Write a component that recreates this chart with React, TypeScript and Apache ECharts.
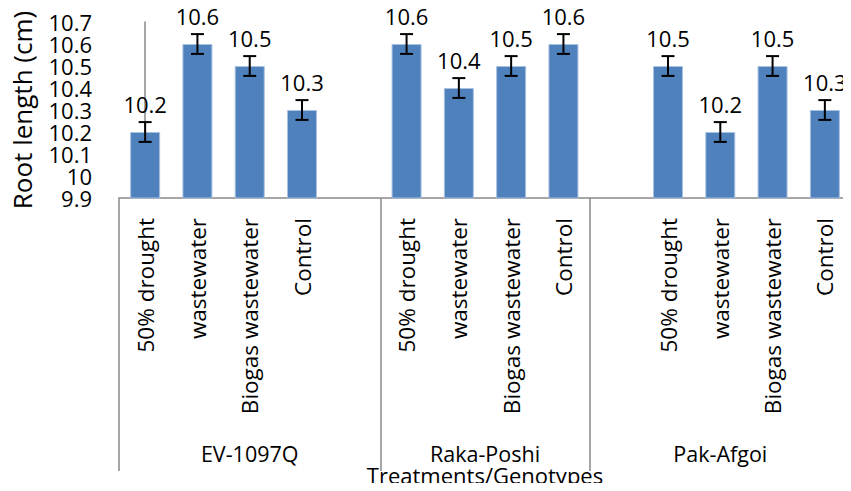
import React, { useEffect, useRef } from "react";
import * as echarts from "echarts";

const categories = [
  "50% drought", "wastewater", "Biogas wastewater", "Control", "",
  "50% drought", "wastewater", "Biogas wastewater", "Control",
  "", "50% drought", "wastewater", "Biogas wastewater", "Control",
];
const rootLength: (number | null)[] = [
  10.2, 10.6, 10.5, 10.3, null,
  10.6, 10.4, 10.5, 10.6,
  null, 10.5, 10.2, 10.5, 10.3,
];
const errorSize: (number | null)[] = [
  0.045, 0.045, 0.045, 0.045, null,
  0.045, 0.045, 0.045, 0.045,
  null, 0.045, 0.045, 0.045, 0.045,
];
const groups = ["EV-1097Q", "Raka-Poshi", "Pak-Afgoi"];
const groupSizes = [5, 4, 5];
const yMin = 9.9;
const yMax = 10.7;
const yStep = 0.1;

const FONT = "Open Sans";

export default function App() {
  const ref = useRef<HTMLDivElement>(null);
  useEffect(() => {
    if (!ref.current) return;
    const chart = echarts.init(ref.current, undefined, { renderer: "svg" });

    const bounds: number[] = [-0.5];
    groupSizes.forEach((s) => bounds.push(bounds[bounds.length - 1] + s));
    const centers = groupSizes.map((s, i) => (bounds[i] + bounds[i + 1]) / 2);

    const errData = rootLength
      .map((v, i) => (v == null || errorSize[i] == null ? null : [i, v - (errorSize[i] as number), v + (errorSize[i] as number)]))
      .filter((d) => d !== null);

    chart.setOption({
      animation: false,
      textStyle: { fontFamily: FONT },
      grid: { left: 119, top: 22, bottom: 293, right: -7, containLabel: false },
      xAxis: [
        {
          type: "category",
          data: categories,
          axisLine: { show: true, lineStyle: { color: "#898989", width: 1.5 } },
          axisTick: { show: false },
          axisLabel: {
            interval: 0,
            rotate: 90,
            margin: 20,
            fontSize: 22.5,
            color: "#000",
            fontFamily: FONT,
          },
        },
        {
          type: "value",
          min: bounds[0],
          max: bounds[bounds.length - 1],
          position: "bottom",
          axisLine: { show: false },
          splitLine: { show: false },
          axisTick: {
            show: true,
            customValues: bounds,
            length: 273,
            lineStyle: { color: "#898989", width: 1.5 },
          },
          axisLabel: {
            customValues: centers,
            margin: 244,
            fontSize: 21.5,
            color: "#000",
            fontFamily: FONT,
            formatter: (v: number) => {
              const k = centers.findIndex((c) => Math.abs(c - v) < 1e-6);
              return k >= 0 ? groups[k] : "";
            },
          },
          name: "Treatments/Genotypes",
          nameLocation: "middle",
          nameGap: 266,
          nameMoveOverlap: false,
          nameTextStyle: { fontSize: 22, color: "#000", fontFamily: FONT },
        },
      ],
      yAxis: {
        type: "value",
        min: yMin,
        max: yMax,
        interval: yStep,
        axisLine: { show: true, lineStyle: { color: "#898989", width: 1.5 } },
        axisTick: { show: false },
        splitLine: { show: false },
        axisLabel: {
          margin: 27,
          fontSize: 22,
          color: "#000",
          fontFamily: FONT,
          formatter: (v: number) => String(Math.round(v * 10) / 10),
        },
        name: "Root length (cm)",
        nameLocation: "middle",
        nameRotate: 90,
        nameGap: 84,
        nameMoveOverlap: false,
        nameTextStyle: { fontSize: 26, color: "#000", fontFamily: FONT },
      },
      series: [
        {
          type: "bar",
          data: rootLength.map((v) => (v == null ? "-" : v)),
          barWidth: 30,
          itemStyle: { color: "#4F81BD", borderColor: "#A9C1E0", borderWidth: 1 },
          label: {
            show: true,
            position: "top",
            distance: 17,
            fontSize: 22,
            color: "#000",
            fontFamily: FONT,
          },
          z: 2,
        },
        {
          type: "custom",
          data: errData,
          z: 3,
          renderItem: (params: any, api: any) => {
            const idx = api.value(0);
            const lo = api.coord([idx, api.value(1)]);
            const hi = api.coord([idx, api.value(2)]);
            const x = lo[0];
            const cap = 6.5;
            const style = { stroke: "#000", lineWidth: 2 };
            return {
              type: "group",
              children: [
                { type: "line", shape: { x1: x, y1: lo[1], x2: x, y2: hi[1] }, style },
                { type: "line", shape: { x1: x - cap, y1: lo[1], x2: x + cap, y2: lo[1] }, style },
                { type: "line", shape: { x1: x - cap, y1: hi[1], x2: x + cap, y2: hi[1] }, style },
              ],
            };
          },
        },
      ],
    });
    return () => chart.dispose();
  }, []);
  return <div ref={ref} style={{ width: 851, height: 491, margin: -8 }} />;
}
